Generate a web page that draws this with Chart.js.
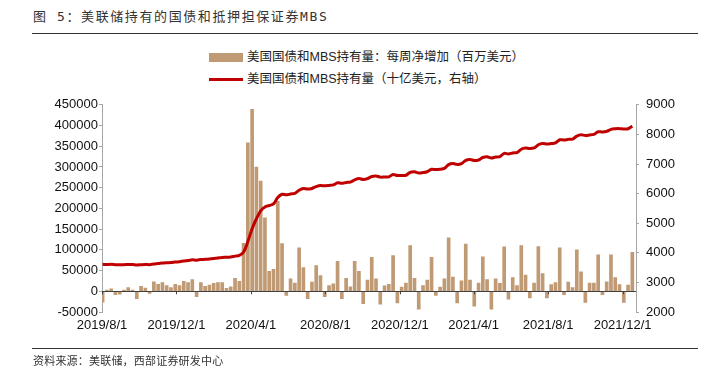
<!DOCTYPE html>
<html>
<head>
<meta charset="utf-8">
<script src="https://cdn.jsdelivr.net/npm/chart.js@4.4.1/dist/chart.umd.min.js"></script>
<style>
  body { margin: 0; background: #fff; }
  #wrap { position: relative; width: 711px; height: 370px; overflow: hidden; font-family: "Liberation Sans", "Noto Sans CJK SC", sans-serif; color: #222; }
  .title { position: absolute; left: 33px; top: 8px; font-size: 13px; line-height: 18px; letter-spacing: 1.6px; font-family: "DejaVu Sans Mono", "Noto Sans CJK SC", monospace; color: #333; }
  .rule { position: absolute; left: 32px; width: 666px; height: 1px; background: #333; }
  .legend { position: absolute; left: 209px; font-size: 12.5px; line-height: 16px; white-space: nowrap; }
  .legend .sw { position: absolute; left: 0; width: 34px; }
  .legend span.txt { position: absolute; left: 38px; top: -8px; }
  .source { position: absolute; left: 33px; top: 354px; font-size: 11px; line-height: 14px; letter-spacing: 0.2px; color: #333; }
  canvas { position: absolute; left: 0; top: 90px; }
</style>
</head>
<body>
<div id="wrap">
  <div class="title">图 5：美联储持有的国债和抵押担保证券MBS</div>
  <div class="rule" style="top:33px"></div>
  <div class="legend" style="top:57px">
    <div class="sw" style="top:-4px;height:9px;background:#BF9A74"></div>
    <span class="txt">美国国债和MBS持有量：每周净增加（百万美元）</span>
  </div>
  <div class="legend" style="top:79px">
    <div class="sw" style="top:-1px;height:3px;background:#C00000"></div>
    <span class="txt">美国国债和MBS持有量（十亿美元，右轴）</span>
  </div>
  <canvas id="chart" width="711" height="260"></canvas>
  <div class="rule" style="top:348px"></div>
  <div class="source">资料来源：美联储，西部证券研发中心</div>
</div>
<script>
// weekly net change of Treasury + MBS holdings, millions USD
const weeklyChange = [
  -26000, 3000, 6000, -8000, -7000, 3000, 9000, 3000, -18000, 12000,
  8000, -5000, 23000, 17000, 21000, 14000, 9000, 17000, 14000, 24000,
  21000, 28000, -13000, 21000, 12000, 15000, 19000, 21000, 21000, 7000,
  11000, 31000, 24000, 116000, 358000, 439000, 300000, 266000, 177000, 48000,
  53000, 217000, 115000, -10000, 30000, 20000, 105000, 57000, -18000, 22000,
  62000, 38000, -13000, 14000, 18000, 72000, -18000, 31000, 11000, 72000,
  48000, -30000, 27000, 82000, 30000, -31000, 13000, 17000, 86000, -28000,
  10000, 20000, 110000, 31000, -43000, 14000, 27000, 82000, -10000, 10000,
  30000, 129000, 34000, -28000, 25000, 114000, 27000, -36000, 20000, 83000,
  28000, -43000, 30000, 19000, 107000, -19000, 33000, 14000, 110000, 39000,
  -16000, 20000, 108000, 43000, -16000, 16000, 21000, 105000, -8000, 22000,
  9000, 100000, 47000, -27000, 20000, 20000, 88000, -8000, 23000, 88000,
  33000, 16000, -27000, 15000, 94000
];

// Treasury + MBS holdings, billions USD (right axis)
const holdings = [
  3610, 3605, 3610, 3600, 3595, 3598, 3605, 3605, 3588, 3598,
  3605, 3600, 3620, 3635, 3655, 3665, 3672, 3688, 3700, 3722,
  3740, 3765, 3752, 3770, 3780, 3792, 3808, 3826, 3845, 3850,
  3860, 3888, 3910, 4025, 4380, 4815, 5150, 5420, 5550, 5598,
  5650, 5865, 5978, 5958, 5988, 6008, 6113, 6170, 6152, 6174,
  6236, 6274, 6261, 6275, 6293, 6365, 6347, 6378, 6389, 6461,
  6509, 6479, 6506, 6578, 6598, 6557, 6560, 6567, 6648, 6610,
  6610, 6620, 6720, 6741, 6698, 6712, 6739, 6821, 6811, 6821,
  6851, 6980, 7014, 6986, 7011, 7125, 7152, 7116, 7136, 7219,
  7247, 7204, 7234, 7253, 7360, 7341, 7374, 7388, 7498, 7537,
  7521, 7541, 7649, 7692, 7676, 7692, 7713, 7818, 7810, 7832,
  7841, 7941, 7988, 7961, 7981, 8001, 8089, 8081, 8100, 8170,
  8190, 8195, 8180, 8190, 8280
];

const tickLabels = ['2019/8/1', '2019/12/1', '2020/4/1', '2020/8/1', '2020/12/1', '2021/4/1', '2021/8/1', '2021/12/1'];

const axisStart = new Date(2019, 7, 1);
const firstWeek = new Date(2019, 7, 2);
const dayMs = 86400000;

const toDays = (d) => Math.round((d - axisStart) / dayMs);
const parseLabel = (s) => {
  const [y, m, d] = s.split('/').map(Number);
  return new Date(y, m - 1, d);
};

// one category per week
const weekDays = weeklyChange.map((_, i) => toDays(new Date(firstWeek.getTime() + i * 7 * dayMs)));
const tickDays = tickLabels.map((s) => toDays(parseLabel(s)));

const zeroLine = {
  id: 'zeroLine',
  afterDatasetsDraw(chart) {
    const { ctx, chartArea, scales } = chart;
    const y0 = scales.y.getPixelForValue(0);
    ctx.save();
    ctx.strokeStyle = '#404040';
    ctx.lineWidth = 1;
    ctx.beginPath();
    ctx.moveTo(chartArea.left, Math.round(y0) + 0.5);
    ctx.lineTo(chartArea.right, Math.round(y0) + 0.5);
    tickDays.forEach((d) => {
      const px = Math.round(scales.x.getPixelForValue(d)) + 0.5;
      ctx.moveTo(px, y0);
      ctx.lineTo(px, y0 + 3);
    });
    ctx.stroke();
    ctx.restore();
  },
};

const tickFont = { family: 'Liberation Sans', size: 13 };

new Chart(document.getElementById('chart').getContext('2d'), {
  type: 'bar',
  data: {
    datasets: [
      {
        type: 'line',
        label: '美国国债和MBS持有量（十亿美元，右轴）',
        data: holdings.map((v, i) => ({ x: weekDays[i], y: v })),
        yAxisID: 'y1',
        borderColor: '#C00000',
        borderWidth: 3,
        pointRadius: 0,
        tension: 0.3,
        order: 0,
      },
      {
        label: '美国国债和MBS持有量：每周净增加（百万美元）',
        data: weeklyChange.map((v, i) => ({ x: weekDays[i], y: v })),
        yAxisID: 'y',
        backgroundColor: '#BF9A74',
        barThickness: 3,
        order: 1,
      },
    ],
  },
  options: {
    responsive: false,
    animation: false,
    layout: { padding: { left: 0, right: 0, top: 14, bottom: 0 } },
    plugins: {
      legend: { display: false },
      tooltip: { enabled: false },
    },
    scales: {
      x: {
        type: 'linear',
        offset: false,
        min: 0,
        max: 875,
        grid: { display: false, drawTicks: false, offset: false },
        border: { display: false },
        afterBuildTicks: (scale) => {
          scale.ticks = tickDays.map((v) => ({ value: v }));
        },
        afterFit: (scale) => {
          scale.height = 38;
        },
        ticks: {
          autoSkip: false,
          maxRotation: 0,
          padding: 6,
          color: '#111',
          font: tickFont,
          callback: (value, index) => tickLabels[index],
        },
      },
      y: {
        position: 'left',
        min: -50000,
        max: 450000,
        afterFit: (scale) => {
          scale.width = 102;
        },
        ticks: { stepSize: 50000, padding: 1, color: '#111', font: tickFont, callback: (v) => String(v) },
        grid: { drawOnChartArea: false, tickLength: 3, tickColor: '#A6A6A6' },
        border: { color: '#A6A6A6' },
      },
      y1: {
        position: 'right',
        min: 2000,
        max: 9000,
        afterFit: (scale) => {
          scale.width = 75;
        },
        ticks: { stepSize: 1000, padding: 7, color: '#111', font: tickFont, callback: (v) => String(v) },
        grid: { drawOnChartArea: false, tickLength: 3, tickColor: '#A6A6A6' },
        border: { color: '#A6A6A6' },
      },
    },
  },
  plugins: [zeroLine],
});
</script>
</body>
</html>
